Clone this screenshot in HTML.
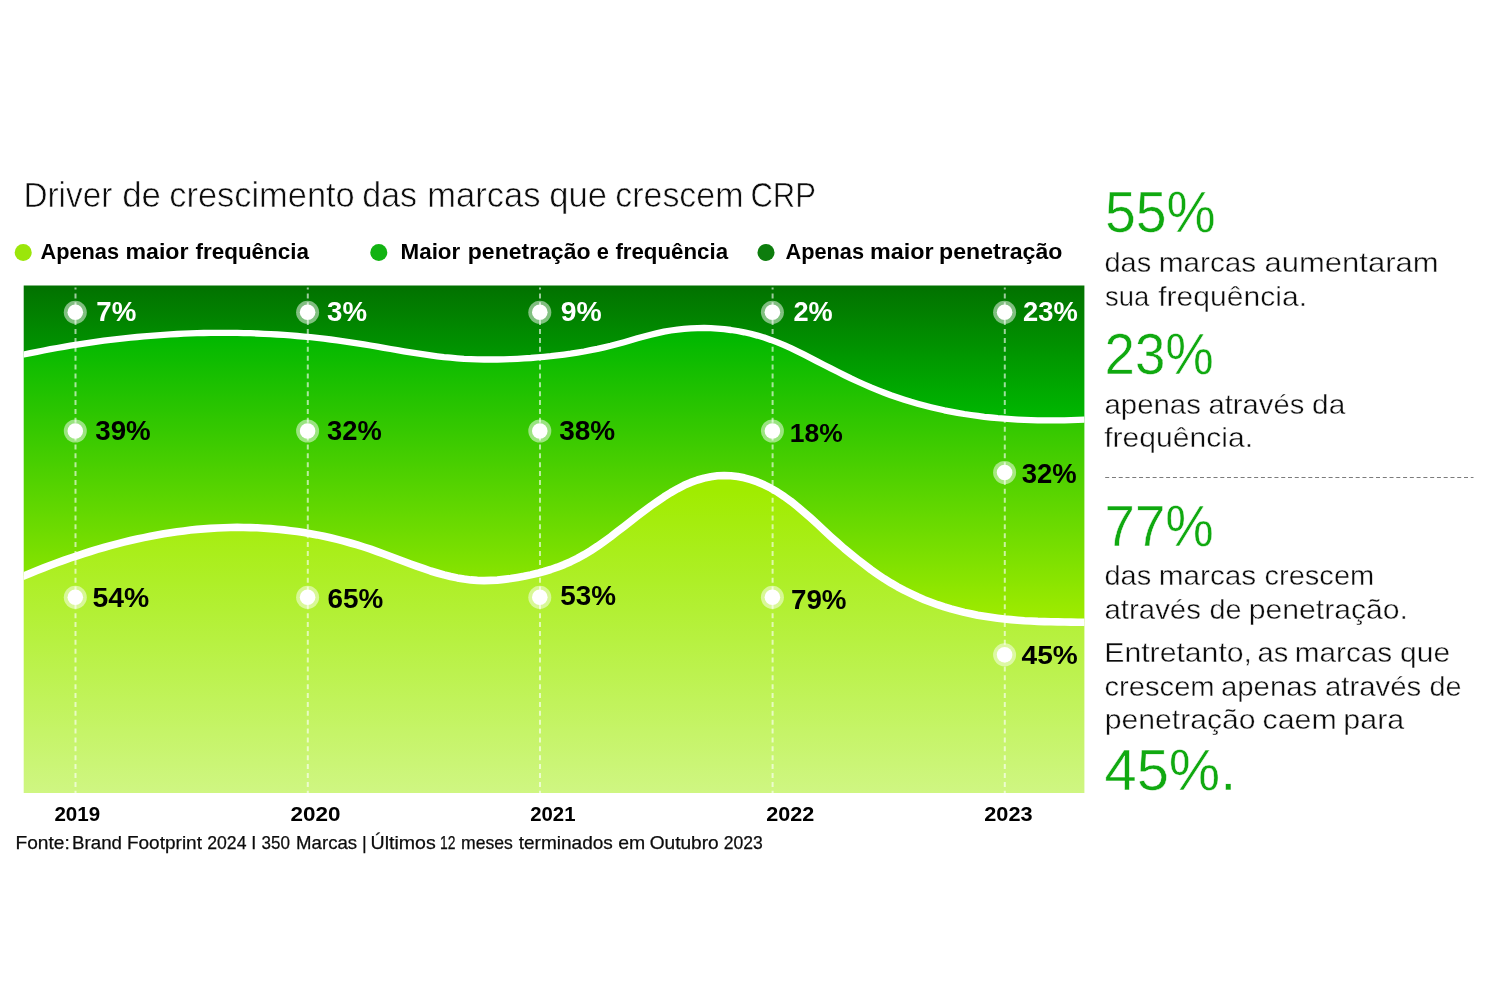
<!DOCTYPE html>
<html lang="pt-BR">
<head>
<meta charset="utf-8">
<title>Driver de crescimento das marcas que crescem CRP</title>
<style>
html,body{margin:0;padding:0;background:#fff;}
body{width:1500px;height:1000px;overflow:hidden;position:relative;font-family:"Liberation Sans",sans-serif;}
svg{display:block;position:absolute;left:0;top:0;}
text{font-family:"Liberation Sans",sans-serif;}
.b{font-weight:700;}
.t1{stroke:#fff;stroke-width:0.6px;}
.t2{stroke:#fff;stroke-width:0.5px;}
.t3{stroke:#fff;stroke-width:0.4px;}
.t4{stroke:#0c0c0c;stroke-width:0.25px;}
</style>
</head>
<body>
<svg width="1500" height="1000" viewBox="0 0 1500 1000">
<defs>
<linearGradient id="gT" gradientUnits="userSpaceOnUse" x1="0" y1="285" x2="0" y2="420">
<stop offset="0" stop-color="#027100"/><stop offset="1" stop-color="#00b900"/></linearGradient>
<linearGradient id="gM" gradientUnits="userSpaceOnUse" x1="0" y1="334" x2="0" y2="622">
<stop offset="0" stop-color="#00b700"/><stop offset="1" stop-color="#a1ec00"/></linearGradient>
<linearGradient id="gB" gradientUnits="userSpaceOnUse" x1="0" y1="490" x2="0" y2="793">
<stop offset="0" stop-color="#a0ec00"/><stop offset="1" stop-color="#cff682"/></linearGradient>
<clipPath id="cp"><rect x="23.7" y="285.4" width="1060.7" height="507.7"/></clipPath>
</defs>
<rect width="1500" height="1000" fill="#fff"/>
<polygon points="23.7,285.4 1084.4,285.4 1084.4,419.7 1077.7,419.9 1071.1,420.1 1064.4,420.3 1057.7,420.4 1051.0,420.4 1044.4,420.4 1037.7,420.3 1031.0,420.1 1024.4,419.9 1017.7,419.6 1011.0,419.2 1004.3,418.7 997.7,418.2 991.0,417.5 984.3,416.8 977.7,415.9 971.0,415.0 964.3,414.0 957.6,412.8 951.0,411.6 944.3,410.3 937.6,408.8 931.0,407.2 924.3,405.5 917.6,403.7 911.0,401.8 904.3,399.7 897.6,397.5 890.9,395.2 884.3,392.7 877.6,390.1 870.9,387.4 864.3,384.5 857.6,381.5 850.9,378.4 844.2,375.1 837.6,371.8 830.9,368.4 824.2,365.0 817.6,361.6 810.9,358.1 804.2,354.7 797.5,351.4 790.9,348.2 784.2,345.2 777.5,342.4 770.9,339.9 764.2,337.6 757.5,335.6 750.8,333.8 744.2,332.3 737.5,331.0 730.8,330.0 724.2,329.2 717.5,328.6 710.8,328.2 704.1,328.0 697.5,328.1 690.8,328.4 684.1,328.9 677.5,329.6 670.8,330.5 664.1,331.7 657.5,333.1 650.8,334.7 644.1,336.5 637.4,338.3 630.8,340.3 624.1,342.2 617.4,344.0 610.8,345.8 604.1,347.4 597.4,348.9 590.7,350.2 584.1,351.5 577.4,352.6 570.7,353.7 564.1,354.6 557.4,355.4 550.7,356.2 544.0,356.8 537.4,357.4 530.7,358.0 524.0,358.4 517.4,358.8 510.7,359.1 504.0,359.3 497.3,359.5 490.7,359.5 484.0,359.5 477.3,359.4 470.7,359.1 464.0,358.8 457.3,358.3 450.6,357.7 444.0,357.1 437.3,356.3 430.6,355.4 424.0,354.4 417.3,353.4 410.6,352.4 404.0,351.3 397.3,350.1 390.6,349.0 383.9,347.8 377.3,346.6 370.6,345.5 363.9,344.4 357.3,343.3 350.6,342.3 343.9,341.3 337.2,340.4 330.6,339.5 323.9,338.7 317.2,337.9 310.6,337.2 303.9,336.6 297.2,336.0 290.5,335.4 283.9,334.9 277.2,334.5 270.5,334.1 263.9,333.8 257.2,333.5 250.5,333.2 243.8,333.1 237.2,332.9 230.5,332.9 223.8,332.8 217.2,332.8 210.5,332.9 203.8,333.0 197.1,333.2 190.5,333.4 183.8,333.7 177.1,334.0 170.5,334.4 163.8,334.8 157.1,335.3 150.5,335.8 143.8,336.4 137.1,337.0 130.4,337.6 123.8,338.3 117.1,339.1 110.4,339.9 103.8,340.7 97.1,341.6 90.4,342.6 83.7,343.6 77.1,344.6 70.4,345.7 63.7,346.8 57.1,348.0 50.4,349.2 43.7,350.5 37.0,351.8 30.4,353.1 23.7,354.5" fill="url(#gT)"/>
<polygon points="23.7,354.5 30.4,353.1 37.0,351.8 43.7,350.5 50.4,349.2 57.1,348.0 63.7,346.8 70.4,345.7 77.1,344.6 83.7,343.6 90.4,342.6 97.1,341.6 103.8,340.7 110.4,339.9 117.1,339.1 123.8,338.3 130.4,337.6 137.1,337.0 143.8,336.4 150.5,335.8 157.1,335.3 163.8,334.8 170.5,334.4 177.1,334.0 183.8,333.7 190.5,333.4 197.1,333.2 203.8,333.0 210.5,332.9 217.2,332.8 223.8,332.8 230.5,332.9 237.2,332.9 243.8,333.1 250.5,333.2 257.2,333.5 263.9,333.8 270.5,334.1 277.2,334.5 283.9,334.9 290.5,335.4 297.2,336.0 303.9,336.6 310.6,337.2 317.2,337.9 323.9,338.7 330.6,339.5 337.2,340.4 343.9,341.3 350.6,342.3 357.3,343.3 363.9,344.4 370.6,345.5 377.3,346.6 383.9,347.8 390.6,349.0 397.3,350.1 404.0,351.3 410.6,352.4 417.3,353.4 424.0,354.4 430.6,355.4 437.3,356.3 444.0,357.1 450.6,357.7 457.3,358.3 464.0,358.8 470.7,359.1 477.3,359.4 484.0,359.5 490.7,359.5 497.3,359.5 504.0,359.3 510.7,359.1 517.4,358.8 524.0,358.4 530.7,358.0 537.4,357.4 544.0,356.8 550.7,356.2 557.4,355.4 564.1,354.6 570.7,353.7 577.4,352.6 584.1,351.5 590.7,350.2 597.4,348.9 604.1,347.4 610.8,345.8 617.4,344.0 624.1,342.2 630.8,340.3 637.4,338.3 644.1,336.5 650.8,334.7 657.5,333.1 664.1,331.7 670.8,330.5 677.5,329.6 684.1,328.9 690.8,328.4 697.5,328.1 704.1,328.0 710.8,328.2 717.5,328.6 724.2,329.2 730.8,330.0 737.5,331.0 744.2,332.3 750.8,333.8 757.5,335.6 764.2,337.6 770.9,339.9 777.5,342.4 784.2,345.2 790.9,348.2 797.5,351.4 804.2,354.7 810.9,358.1 817.6,361.6 824.2,365.0 830.9,368.4 837.6,371.8 844.2,375.1 850.9,378.4 857.6,381.5 864.3,384.5 870.9,387.4 877.6,390.1 884.3,392.7 890.9,395.2 897.6,397.5 904.3,399.7 911.0,401.8 917.6,403.7 924.3,405.5 931.0,407.2 937.6,408.8 944.3,410.3 951.0,411.6 957.6,412.8 964.3,414.0 971.0,415.0 977.7,415.9 984.3,416.8 991.0,417.5 997.7,418.2 1004.3,418.7 1011.0,419.2 1017.7,419.6 1024.4,419.9 1031.0,420.1 1037.7,420.3 1044.4,420.4 1051.0,420.4 1057.7,420.4 1064.4,420.3 1071.1,420.1 1077.7,419.9 1084.4,419.7 1084.4,622.3 1077.7,622.2 1071.1,622.1 1064.4,622.0 1057.7,621.9 1051.0,621.8 1044.4,621.6 1037.7,621.4 1031.0,621.0 1024.4,620.7 1017.7,620.2 1011.0,619.6 1004.3,619.0 997.7,618.2 991.0,617.3 984.3,616.3 977.7,615.2 971.0,613.8 964.3,612.4 957.6,610.7 951.0,608.9 944.3,606.9 937.6,604.7 931.0,602.3 924.3,599.7 917.6,596.8 911.0,593.7 904.3,590.4 897.6,586.8 890.9,582.9 884.3,578.8 877.6,574.3 870.9,569.6 864.3,564.6 857.6,559.4 850.9,554.0 844.2,548.5 837.6,542.7 830.9,536.7 824.2,530.5 817.6,524.3 810.9,518.2 804.2,512.3 797.5,506.6 790.9,501.3 784.2,496.5 777.5,492.1 770.9,488.2 764.2,484.8 757.5,481.9 750.8,479.6 744.2,477.8 737.5,476.5 730.8,475.7 724.2,475.5 717.5,475.8 710.8,476.7 704.1,478.1 697.5,480.0 690.8,482.4 684.1,485.3 677.5,488.8 670.8,492.6 664.1,496.8 657.5,501.3 650.8,506.0 644.1,511.0 637.4,516.1 630.8,521.2 624.1,526.4 617.4,531.6 610.8,536.7 604.1,541.6 597.4,546.3 590.7,550.7 584.1,554.7 577.4,558.4 570.7,561.7 564.1,564.6 557.4,567.2 550.7,569.5 544.0,571.5 537.4,573.3 530.7,574.9 524.0,576.3 517.4,577.5 510.7,578.6 504.0,579.4 497.3,580.1 490.7,580.4 484.0,580.6 477.3,580.4 470.7,579.9 464.0,579.1 457.3,577.9 450.6,576.5 444.0,574.9 437.3,573.0 430.6,571.0 424.0,568.7 417.3,566.4 410.6,564.0 404.0,561.5 397.3,559.0 390.6,556.5 383.9,554.0 377.3,551.6 370.6,549.2 363.9,547.0 357.3,544.9 350.6,543.0 343.9,541.1 337.2,539.4 330.6,537.8 323.9,536.3 317.2,534.9 310.6,533.7 303.9,532.6 297.2,531.6 290.5,530.7 283.9,529.9 277.2,529.2 270.5,528.6 263.9,528.2 257.2,527.8 250.5,527.6 243.8,527.5 237.2,527.4 230.5,527.5 223.8,527.7 217.2,528.0 210.5,528.4 203.8,528.9 197.1,529.4 190.5,530.1 183.8,530.9 177.1,531.8 170.5,532.8 163.8,533.8 157.1,535.0 150.5,536.2 143.8,537.6 137.1,539.0 130.4,540.5 123.8,542.1 117.1,543.8 110.4,545.6 103.8,547.5 97.1,549.4 90.4,551.5 83.7,553.6 77.1,555.8 70.4,558.0 63.7,560.4 57.1,562.8 50.4,565.3 43.7,567.9 37.0,570.5 30.4,573.2 23.7,576.0" fill="url(#gM)"/>
<polygon points="23.7,576.0 30.4,573.2 37.0,570.5 43.7,567.9 50.4,565.3 57.1,562.8 63.7,560.4 70.4,558.0 77.1,555.8 83.7,553.6 90.4,551.5 97.1,549.4 103.8,547.5 110.4,545.6 117.1,543.8 123.8,542.1 130.4,540.5 137.1,539.0 143.8,537.6 150.5,536.2 157.1,535.0 163.8,533.8 170.5,532.8 177.1,531.8 183.8,530.9 190.5,530.1 197.1,529.4 203.8,528.9 210.5,528.4 217.2,528.0 223.8,527.7 230.5,527.5 237.2,527.4 243.8,527.5 250.5,527.6 257.2,527.8 263.9,528.2 270.5,528.6 277.2,529.2 283.9,529.9 290.5,530.7 297.2,531.6 303.9,532.6 310.6,533.7 317.2,534.9 323.9,536.3 330.6,537.8 337.2,539.4 343.9,541.1 350.6,543.0 357.3,544.9 363.9,547.0 370.6,549.2 377.3,551.6 383.9,554.0 390.6,556.5 397.3,559.0 404.0,561.5 410.6,564.0 417.3,566.4 424.0,568.7 430.6,571.0 437.3,573.0 444.0,574.9 450.6,576.5 457.3,577.9 464.0,579.1 470.7,579.9 477.3,580.4 484.0,580.6 490.7,580.4 497.3,580.1 504.0,579.4 510.7,578.6 517.4,577.5 524.0,576.3 530.7,574.9 537.4,573.3 544.0,571.5 550.7,569.5 557.4,567.2 564.1,564.6 570.7,561.7 577.4,558.4 584.1,554.7 590.7,550.7 597.4,546.3 604.1,541.6 610.8,536.7 617.4,531.6 624.1,526.4 630.8,521.2 637.4,516.1 644.1,511.0 650.8,506.0 657.5,501.3 664.1,496.8 670.8,492.6 677.5,488.8 684.1,485.3 690.8,482.4 697.5,480.0 704.1,478.1 710.8,476.7 717.5,475.8 724.2,475.5 730.8,475.7 737.5,476.5 744.2,477.8 750.8,479.6 757.5,481.9 764.2,484.8 770.9,488.2 777.5,492.1 784.2,496.5 790.9,501.3 797.5,506.6 804.2,512.3 810.9,518.2 817.6,524.3 824.2,530.5 830.9,536.7 837.6,542.7 844.2,548.5 850.9,554.0 857.6,559.4 864.3,564.6 870.9,569.6 877.6,574.3 884.3,578.8 890.9,582.9 897.6,586.8 904.3,590.4 911.0,593.7 917.6,596.8 924.3,599.7 931.0,602.3 937.6,604.7 944.3,606.9 951.0,608.9 957.6,610.7 964.3,612.4 971.0,613.8 977.7,615.2 984.3,616.3 991.0,617.3 997.7,618.2 1004.3,619.0 1011.0,619.6 1017.7,620.2 1024.4,620.7 1031.0,621.0 1037.7,621.4 1044.4,621.6 1051.0,621.8 1057.7,621.9 1064.4,622.0 1071.1,622.1 1077.7,622.2 1084.4,622.3 1084.4,793.1 23.7,793.1" fill="url(#gB)"/>
<g clip-path="url(#cp)">
<g stroke="#fff" stroke-width="2.0" stroke-dasharray="5 3.88" stroke-opacity="0.62" fill="none">
<path d="M75.5 287.5V289.6M75.5 293.48V794"/>
<path d="M307.8 287.5V289.6M307.8 293.48V794"/>
<path d="M540 287.5V289.6M540 293.48V794"/>
<path d="M772.6 287.5V289.6M772.6 293.48V794"/>
<path d="M1004.8 287.5V289.6M1004.8 293.48V794"/>
</g>
<polyline points="17.7,355.8 23.7,354.5 30.4,353.1 37.0,351.8 43.7,350.5 50.4,349.2 57.1,348.0 63.7,346.8 70.4,345.7 77.1,344.6 83.7,343.6 90.4,342.6 97.1,341.6 103.8,340.7 110.4,339.9 117.1,339.1 123.8,338.3 130.4,337.6 137.1,337.0 143.8,336.4 150.5,335.8 157.1,335.3 163.8,334.8 170.5,334.4 177.1,334.0 183.8,333.7 190.5,333.4 197.1,333.2 203.8,333.0 210.5,332.9 217.2,332.8 223.8,332.8 230.5,332.9 237.2,332.9 243.8,333.1 250.5,333.2 257.2,333.5 263.9,333.8 270.5,334.1 277.2,334.5 283.9,334.9 290.5,335.4 297.2,336.0 303.9,336.6 310.6,337.2 317.2,337.9 323.9,338.7 330.6,339.5 337.2,340.4 343.9,341.3 350.6,342.3 357.3,343.3 363.9,344.4 370.6,345.5 377.3,346.6 383.9,347.8 390.6,349.0 397.3,350.1 404.0,351.3 410.6,352.4 417.3,353.4 424.0,354.4 430.6,355.4 437.3,356.3 444.0,357.1 450.6,357.7 457.3,358.3 464.0,358.8 470.7,359.1 477.3,359.4 484.0,359.5 490.7,359.5 497.3,359.5 504.0,359.3 510.7,359.1 517.4,358.8 524.0,358.4 530.7,358.0 537.4,357.4 544.0,356.8 550.7,356.2 557.4,355.4 564.1,354.6 570.7,353.7 577.4,352.6 584.1,351.5 590.7,350.2 597.4,348.9 604.1,347.4 610.8,345.8 617.4,344.0 624.1,342.2 630.8,340.3 637.4,338.3 644.1,336.5 650.8,334.7 657.5,333.1 664.1,331.7 670.8,330.5 677.5,329.6 684.1,328.9 690.8,328.4 697.5,328.1 704.1,328.0 710.8,328.2 717.5,328.6 724.2,329.2 730.8,330.0 737.5,331.0 744.2,332.3 750.8,333.8 757.5,335.6 764.2,337.6 770.9,339.9 777.5,342.4 784.2,345.2 790.9,348.2 797.5,351.4 804.2,354.7 810.9,358.1 817.6,361.6 824.2,365.0 830.9,368.4 837.6,371.8 844.2,375.1 850.9,378.4 857.6,381.5 864.3,384.5 870.9,387.4 877.6,390.1 884.3,392.7 890.9,395.2 897.6,397.5 904.3,399.7 911.0,401.8 917.6,403.7 924.3,405.5 931.0,407.2 937.6,408.8 944.3,410.3 951.0,411.6 957.6,412.8 964.3,414.0 971.0,415.0 977.7,415.9 984.3,416.8 991.0,417.5 997.7,418.2 1004.3,418.7 1011.0,419.2 1017.7,419.6 1024.4,419.9 1031.0,420.1 1037.7,420.3 1044.4,420.4 1051.0,420.4 1057.7,420.4 1064.4,420.3 1071.1,420.1 1077.7,419.9 1084.4,419.7 1090.4,419.7" fill="none" stroke="#fff" stroke-width="6.3" stroke-linejoin="round"/>
<polyline points="17.7,578.4 23.7,576.0 30.4,573.2 37.0,570.5 43.7,567.9 50.4,565.3 57.1,562.8 63.7,560.4 70.4,558.0 77.1,555.8 83.7,553.6 90.4,551.5 97.1,549.4 103.8,547.5 110.4,545.6 117.1,543.8 123.8,542.1 130.4,540.5 137.1,539.0 143.8,537.6 150.5,536.2 157.1,535.0 163.8,533.8 170.5,532.8 177.1,531.8 183.8,530.9 190.5,530.1 197.1,529.4 203.8,528.9 210.5,528.4 217.2,528.0 223.8,527.7 230.5,527.5 237.2,527.4 243.8,527.5 250.5,527.6 257.2,527.8 263.9,528.2 270.5,528.6 277.2,529.2 283.9,529.9 290.5,530.7 297.2,531.6 303.9,532.6 310.6,533.7 317.2,534.9 323.9,536.3 330.6,537.8 337.2,539.4 343.9,541.1 350.6,543.0 357.3,544.9 363.9,547.0 370.6,549.2 377.3,551.6 383.9,554.0 390.6,556.5 397.3,559.0 404.0,561.5 410.6,564.0 417.3,566.4 424.0,568.7 430.6,571.0 437.3,573.0 444.0,574.9 450.6,576.5 457.3,577.9 464.0,579.1 470.7,579.9 477.3,580.4 484.0,580.6 490.7,580.4 497.3,580.1 504.0,579.4 510.7,578.6 517.4,577.5 524.0,576.3 530.7,574.9 537.4,573.3 544.0,571.5 550.7,569.5 557.4,567.2 564.1,564.6 570.7,561.7 577.4,558.4 584.1,554.7 590.7,550.7 597.4,546.3 604.1,541.6 610.8,536.7 617.4,531.6 624.1,526.4 630.8,521.2 637.4,516.1 644.1,511.0 650.8,506.0 657.5,501.3 664.1,496.8 670.8,492.6 677.5,488.8 684.1,485.3 690.8,482.4 697.5,480.0 704.1,478.1 710.8,476.7 717.5,475.8 724.2,475.5 730.8,475.7 737.5,476.5 744.2,477.8 750.8,479.6 757.5,481.9 764.2,484.8 770.9,488.2 777.5,492.1 784.2,496.5 790.9,501.3 797.5,506.6 804.2,512.3 810.9,518.2 817.6,524.3 824.2,530.5 830.9,536.7 837.6,542.7 844.2,548.5 850.9,554.0 857.6,559.4 864.3,564.6 870.9,569.6 877.6,574.3 884.3,578.8 890.9,582.9 897.6,586.8 904.3,590.4 911.0,593.7 917.6,596.8 924.3,599.7 931.0,602.3 937.6,604.7 944.3,606.9 951.0,608.9 957.6,610.7 964.3,612.4 971.0,613.8 977.7,615.2 984.3,616.3 991.0,617.3 997.7,618.2 1004.3,619.0 1011.0,619.6 1017.7,620.2 1024.4,620.7 1031.0,621.0 1037.7,621.4 1044.4,621.6 1051.0,621.8 1057.7,621.9 1064.4,622.0 1071.1,622.1 1077.7,622.2 1084.4,622.3 1090.4,622.3" fill="none" stroke="#fff" stroke-width="7.6" stroke-linejoin="round"/>
</g>
<g fill="#fff">
<circle cx="75.3" cy="312.3" r="11.5" fill-opacity="0.5"/><circle cx="75.3" cy="312.3" r="7.8"/>
<circle cx="307.6" cy="312.3" r="11.5" fill-opacity="0.5"/><circle cx="307.6" cy="312.3" r="7.8"/>
<circle cx="539.8" cy="312.3" r="11.5" fill-opacity="0.5"/><circle cx="539.8" cy="312.3" r="7.8"/>
<circle cx="772.4" cy="312.3" r="11.5" fill-opacity="0.5"/><circle cx="772.4" cy="312.3" r="7.8"/>
<circle cx="1004.6" cy="312.3" r="11.5" fill-opacity="0.5"/><circle cx="1004.6" cy="312.3" r="7.8"/>
<circle cx="75.3" cy="431" r="11.5" fill-opacity="0.5"/><circle cx="75.3" cy="431" r="7.8"/>
<circle cx="307.6" cy="431" r="11.5" fill-opacity="0.5"/><circle cx="307.6" cy="431" r="7.8"/>
<circle cx="539.8" cy="431" r="11.5" fill-opacity="0.5"/><circle cx="539.8" cy="431" r="7.8"/>
<circle cx="772.4" cy="431" r="11.5" fill-opacity="0.5"/><circle cx="772.4" cy="431" r="7.8"/>
<circle cx="1004.6" cy="472.5" r="11.5" fill-opacity="0.5"/><circle cx="1004.6" cy="472.5" r="7.8"/>
<circle cx="75.3" cy="597.3" r="11.5" fill-opacity="0.5"/><circle cx="75.3" cy="597.3" r="7.8"/>
<circle cx="307.6" cy="597.3" r="11.5" fill-opacity="0.5"/><circle cx="307.6" cy="597.3" r="7.8"/>
<circle cx="539.8" cy="597.3" r="11.5" fill-opacity="0.5"/><circle cx="539.8" cy="597.3" r="7.8"/>
<circle cx="772.4" cy="597.3" r="11.5" fill-opacity="0.5"/><circle cx="772.4" cy="597.3" r="7.8"/>
<circle cx="1004.6" cy="654.8" r="11.5" fill-opacity="0.5"/><circle cx="1004.6" cy="654.8" r="7.8"/>
</g>
<circle cx="23.2" cy="252.5" r="8.5" fill="#9be60a"/>
<circle cx="378.8" cy="252.5" r="8.5" fill="#12b312"/>
<circle cx="766" cy="252.5" r="8.5" fill="#0d7d0d"/>
<text id="lab0" class="b" y="321.2" font-size="26.92" fill="#fff"><tspan id="lab0_0" x="96.25" textLength="40" lengthAdjust="spacingAndGlyphs">7%</tspan></text>
<text id="lab1" class="b" y="321.15" font-size="26.93" fill="#fff"><tspan id="lab1_0" x="327.05" textLength="39.9" lengthAdjust="spacingAndGlyphs">3%</tspan></text>
<text id="lab2" class="b" y="321.15" font-size="26.93" fill="#fff"><tspan id="lab2_0" x="560.8" textLength="40.95" lengthAdjust="spacingAndGlyphs">9%</tspan></text>
<text id="lab3" class="b" y="321.2" font-size="26.92" fill="#fff"><tspan id="lab3_0" x="793.5" textLength="39.25" lengthAdjust="spacingAndGlyphs">2%</tspan></text>
<text id="lab4" class="b" y="321.15" font-size="26.93" fill="#fff"><tspan id="lab4_0" x="1023" textLength="54.75" lengthAdjust="spacingAndGlyphs">23%</tspan></text>
<text id="lab5" class="b" y="440.25" font-size="26.94" fill="#000"><tspan id="lab5_0" x="95.25" textLength="55.5" lengthAdjust="spacingAndGlyphs">39%</tspan></text>
<text id="lab6" class="b" y="440.25" font-size="26.94" fill="#000"><tspan id="lab6_0" x="327.05" textLength="54.7" lengthAdjust="spacingAndGlyphs">32%</tspan></text>
<text id="lab7" class="b" y="440.25" font-size="26.94" fill="#000"><tspan id="lab7_0" x="559.25" textLength="56" lengthAdjust="spacingAndGlyphs">38%</tspan></text>
<text id="lab8" class="b" y="441.55" font-size="26.66" fill="#000"><tspan id="lab8_0" x="789.75" textLength="53" lengthAdjust="spacingAndGlyphs">18%</tspan></text>
<text id="lab9" class="b" y="483.25" font-size="26.94" fill="#000"><tspan id="lab9_0" x="1021.75" textLength="55" lengthAdjust="spacingAndGlyphs">32%</tspan></text>
<text id="lab10" class="b" y="606.75" font-size="26.93" fill="#000"><tspan id="lab10_0" x="92.5" textLength="56.75" lengthAdjust="spacingAndGlyphs">54%</tspan></text>
<text id="lab11" class="b" y="608.25" font-size="26.94" fill="#000"><tspan id="lab11_0" x="327.5" textLength="55.75" lengthAdjust="spacingAndGlyphs">65%</tspan></text>
<text id="lab12" class="b" y="605.25" font-size="26.94" fill="#000"><tspan id="lab12_0" x="560.2" textLength="55.75" lengthAdjust="spacingAndGlyphs">53%</tspan></text>
<text id="lab13" class="b" y="609.25" font-size="26.94" fill="#000"><tspan id="lab13_0" x="790.95" textLength="55.6" lengthAdjust="spacingAndGlyphs">79%</tspan></text>
<text id="lab14" class="b" y="664.45" font-size="26.65" fill="#000"><tspan id="lab14_0" x="1021.5" textLength="56.25" lengthAdjust="spacingAndGlyphs">45%</tspan></text>
<text id="yr0" class="b" y="821.35" font-size="19.52" fill="#000"><tspan id="yr0_0" x="54.45" textLength="45.7" lengthAdjust="spacingAndGlyphs">2019</tspan></text>
<text id="yr1" class="b" y="821.35" font-size="19.52" fill="#000"><tspan id="yr1_0" x="290.45" textLength="49.95" lengthAdjust="spacingAndGlyphs">2020</tspan></text>
<text id="yr2" class="b" y="821.35" font-size="19.52" fill="#000"><tspan id="yr2_0" x="530.25" textLength="45.25" lengthAdjust="spacingAndGlyphs">2021</tspan></text>
<text id="yr3" class="b" y="821.35" font-size="19.52" fill="#000"><tspan id="yr3_0" x="766.25" textLength="47.95" lengthAdjust="spacingAndGlyphs">2022</tspan></text>
<text id="yr4" class="b" y="821.35" font-size="19.52" fill="#000"><tspan id="yr4_0" x="984.25" textLength="48.3" lengthAdjust="spacingAndGlyphs">2023</tspan></text>
<text id="title" class="t1" y="206.6" font-size="35" fill="#0c0c0c"><tspan id="title_0" x="23.4" textLength="88.95" lengthAdjust="spacingAndGlyphs">Driver</tspan> <tspan id="title_1" x="122.25" textLength="38.75" lengthAdjust="spacingAndGlyphs">de</tspan> <tspan id="title_2" x="169.25" textLength="185.5" lengthAdjust="spacingAndGlyphs">crescimento</tspan> <tspan id="title_3" x="362.25" textLength="54.85" lengthAdjust="spacingAndGlyphs">das</tspan> <tspan id="title_4" x="427.25" textLength="113.25" lengthAdjust="spacingAndGlyphs">marcas</tspan> <tspan id="title_5" x="549.25" textLength="57.75" lengthAdjust="spacingAndGlyphs">que</tspan> <tspan id="title_6" x="615.25" textLength="128.25" lengthAdjust="spacingAndGlyphs">crescem</tspan> <tspan id="title_7" x="750.4" textLength="65.6" lengthAdjust="spacingAndGlyphs">CRP</tspan></text>
<text id="leg0" class="b" y="259.3" font-size="21.8" fill="#000"><tspan id="leg0_0" x="40.5" textLength="78.5" lengthAdjust="spacingAndGlyphs">Apenas</tspan> <tspan id="leg0_1" x="125.5" textLength="63" lengthAdjust="spacingAndGlyphs">maior</tspan> <tspan id="leg0_2" x="195.5" textLength="113.5" lengthAdjust="spacingAndGlyphs">frequência</tspan></text>
<text id="leg1" class="b" y="259.3" font-size="21.8" fill="#000"><tspan id="leg1_0" x="400.6" textLength="59.65" lengthAdjust="spacingAndGlyphs">Maior</tspan> <tspan id="leg1_1" x="467.8" textLength="122.7" lengthAdjust="spacingAndGlyphs">penetração</tspan> <tspan id="leg1_2" x="596.83">e</tspan> <tspan id="leg1_3" x="615.4" textLength="112.65" lengthAdjust="spacingAndGlyphs">frequência</tspan></text>
<text id="leg2" class="b" y="259.3" font-size="21.8" fill="#000"><tspan id="leg2_0" x="785.5" textLength="78.5" lengthAdjust="spacingAndGlyphs">Apenas</tspan> <tspan id="leg2_1" x="869.9" textLength="63.6" lengthAdjust="spacingAndGlyphs">maior</tspan> <tspan id="leg2_2" x="939.1" textLength="123.3" lengthAdjust="spacingAndGlyphs">penetração</tspan></text>
<text id="foot" class="t4" y="849.2" font-size="18.2" fill="#0c0c0c"><tspan id="foot_0" x="15.5" textLength="54.25" lengthAdjust="spacingAndGlyphs">Fonte:</tspan> <tspan id="foot_1" x="72.1" textLength="49.9" lengthAdjust="spacingAndGlyphs">Brand</tspan> <tspan id="foot_2" x="126.9" textLength="75.1" lengthAdjust="spacingAndGlyphs">Footprint</tspan> <tspan id="foot_3" x="207.25" textLength="39.25" lengthAdjust="spacingAndGlyphs">2024</tspan> <tspan id="foot_4" x="251.18">I</tspan> <tspan id="foot_5" x="261.5" textLength="28.4" lengthAdjust="spacingAndGlyphs">350</tspan> <tspan id="foot_6" x="296.1" textLength="61" lengthAdjust="spacingAndGlyphs">Marcas</tspan> <tspan id="foot_7" x="361.88">|</tspan> <tspan id="foot_8" x="370.5" textLength="65.25" lengthAdjust="spacingAndGlyphs">Últimos</tspan> <tspan id="foot_9" x="440" textLength="15.5" lengthAdjust="spacingAndGlyphs">12</tspan> <tspan id="foot_10" x="461" textLength="51.8" lengthAdjust="spacingAndGlyphs">meses</tspan> <tspan id="foot_11" x="518.75" textLength="94.15" lengthAdjust="spacingAndGlyphs">terminados</tspan> <tspan id="foot_12" x="618.25" textLength="27" lengthAdjust="spacingAndGlyphs">em</tspan> <tspan id="foot_13" x="649.65" textLength="69.1" lengthAdjust="spacingAndGlyphs">Outubro</tspan> <tspan id="foot_14" x="723.65" textLength="39.1" lengthAdjust="spacingAndGlyphs">2023</tspan></text>
<text id="num0" class="t2" y="232.2" font-size="58.29" fill="#10a910"><tspan id="num0_0" x="1105" textLength="110.75" lengthAdjust="spacingAndGlyphs">55%</tspan></text>
<text id="num1" class="t2" y="373.9" font-size="56.57" fill="#10a910"><tspan id="num1_0" x="1104.5" textLength="109.35" lengthAdjust="spacingAndGlyphs">23%</tspan></text>
<text id="num2" class="t2" y="545.75" font-size="57.71" fill="#10a910"><tspan id="num2_0" x="1104.5" textLength="109.35" lengthAdjust="spacingAndGlyphs">77%</tspan></text>
<text id="num3" class="t2" y="790.1" font-size="57.42" fill="#10a910"><tspan id="num3_0" x="1104.5" textLength="131.7" lengthAdjust="spacingAndGlyphs">45%.</tspan></text>
<text id="body0" class="t3" y="271.8" font-size="27.2" fill="#0c0c0c"><tspan id="body0_0" x="1104.5" textLength="46.75" lengthAdjust="spacingAndGlyphs">das</tspan> <tspan id="body0_1" x="1158.75" textLength="97.5" lengthAdjust="spacingAndGlyphs">marcas</tspan> <tspan id="body0_2" x="1264.5" textLength="174.15" lengthAdjust="spacingAndGlyphs">aumentaram</tspan></text>
<text id="body1" class="t3" y="306" font-size="27.2" fill="#0c0c0c"><tspan id="body1_0" x="1105" textLength="44.25" lengthAdjust="spacingAndGlyphs">sua</tspan> <tspan id="body1_1" x="1158.25" textLength="148.75" lengthAdjust="spacingAndGlyphs">frequência.</tspan></text>
<text id="body2" class="t3" y="413.6" font-size="27.2" fill="#0c0c0c"><tspan id="body2_0" x="1104.5" textLength="96.35" lengthAdjust="spacingAndGlyphs">apenas</tspan> <tspan id="body2_1" x="1208.5" textLength="95.75" lengthAdjust="spacingAndGlyphs">através</tspan> <tspan id="body2_2" x="1312.1" textLength="33.15" lengthAdjust="spacingAndGlyphs">da</tspan></text>
<text id="body3" class="t3" y="447" font-size="27.2" fill="#0c0c0c"><tspan id="body3_0" x="1104.25" textLength="148.75" lengthAdjust="spacingAndGlyphs">frequência.</tspan></text>
<text id="body4" class="t3" y="585.4" font-size="27.2" fill="#0c0c0c"><tspan id="body4_0" x="1104.5" textLength="46.75" lengthAdjust="spacingAndGlyphs">das</tspan> <tspan id="body4_1" x="1158.75" textLength="97.5" lengthAdjust="spacingAndGlyphs">marcas</tspan> <tspan id="body4_2" x="1264.5" textLength="109.75" lengthAdjust="spacingAndGlyphs">crescem</tspan></text>
<text id="body5" class="t3" y="618.9" font-size="27.2" fill="#0c0c0c"><tspan id="body5_0" x="1104.5" textLength="96.35" lengthAdjust="spacingAndGlyphs">através</tspan> <tspan id="body5_1" x="1209.5" textLength="32" lengthAdjust="spacingAndGlyphs">de</tspan> <tspan id="body5_2" x="1248.75" textLength="159.25" lengthAdjust="spacingAndGlyphs">penetração.</tspan></text>
<text id="body6" class="t3" y="662.2" font-size="27.2" fill="#0c0c0c"><tspan id="body6_0" x="1104.25" textLength="147.75" lengthAdjust="spacingAndGlyphs">Entretanto,</tspan> <tspan id="body6_1" x="1257.5" textLength="30.75" lengthAdjust="spacingAndGlyphs">as</tspan> <tspan id="body6_2" x="1294.75" textLength="97.5" lengthAdjust="spacingAndGlyphs">marcas</tspan> <tspan id="body6_3" x="1400.1" textLength="50" lengthAdjust="spacingAndGlyphs">que</tspan></text>
<text id="body7" class="t3" y="696" font-size="27.2" fill="#0c0c0c"><tspan id="body7_0" x="1104.5" textLength="110.15" lengthAdjust="spacingAndGlyphs">crescem</tspan> <tspan id="body7_1" x="1220.9" textLength="96.35" lengthAdjust="spacingAndGlyphs">apenas</tspan> <tspan id="body7_2" x="1324.9" textLength="96.35" lengthAdjust="spacingAndGlyphs">através</tspan> <tspan id="body7_3" x="1429.5" textLength="32" lengthAdjust="spacingAndGlyphs">de</tspan></text>
<text id="body8" class="t3" y="729.2" font-size="27.2" fill="#0c0c0c"><tspan id="body8_0" x="1104.75" textLength="150.75" lengthAdjust="spacingAndGlyphs">penetração</tspan> <tspan id="body8_1" x="1262.5" textLength="74.15" lengthAdjust="spacingAndGlyphs">caem</tspan> <tspan id="body8_2" x="1343.35" textLength="60.9" lengthAdjust="spacingAndGlyphs">para</tspan></text>
<line x1="1105.2" y1="477.5" x2="1473.5" y2="477.5" stroke="#7c7c7c" stroke-width="1" stroke-dasharray="4 2.77"/>
</svg>
</body>
</html>
